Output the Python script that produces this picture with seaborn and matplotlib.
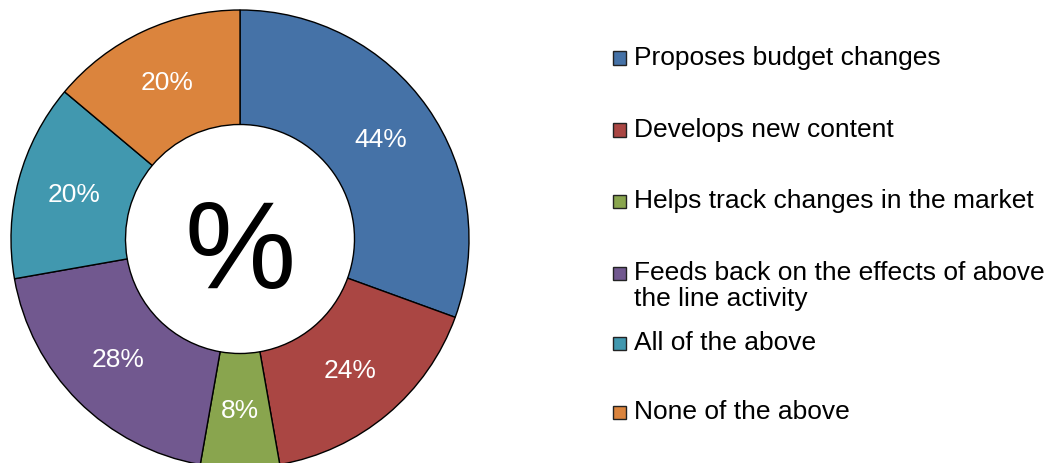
import matplotlib
matplotlib.use("Agg")
import matplotlib.pyplot as plt
from matplotlib.patches import Rectangle
import seaborn as sns

# Survey responses (percent of respondents, multiple answers allowed)
categories = [
    "Proposes budget changes",
    "Develops new content",
    "Helps track changes in the market",
    "Feeds back on the effects of above\nthe line activity",
    "All of the above",
    "None of the above",
]
values = [44, 24, 8, 28, 20, 20]
colors = ["#4572A7", "#AA4643", "#89A54E", "#71588F", "#4198AF", "#DB843D"]

sns.set_theme(style="white")
plt.rcParams["font.family"] = ["Liberation Sans", "DejaVu Sans"]

W, H = 1054, 463
DPI = 100
fig = plt.figure(figsize=(W / DPI, H / DPI), dpi=DPI)
fig.patch.set_facecolor("white")

# donut geometry in pixels
cx, cy, R = 240, 239, 229
lim = 1.01
half = R * lim
ax = fig.add_axes([(cx - half) / W, (H - cy - half) / H, 2 * half / W, 2 * half / H])

palette = sns.color_palette(colors)
wedges, texts = ax.pie(
    values,
    colors=palette,
    startangle=90,
    counterclock=False,
    radius=1.0,
    labels=[f"{v}%" for v in values],
    labeldistance=0.75,
    wedgeprops=dict(width=0.5, edgecolor="black", linewidth=1.0),
    textprops=dict(color="white", fontsize=19, ha="center", va="center"),
)
for w in wedges:
    w.set_clip_on(False)
ax.set_xlim(-lim, lim)
ax.set_ylim(-lim, lim)
ax.set_aspect("equal")
ax.axis("off")

ax.text(0, -0.075, "%", fontsize=90, color="black", ha="center", va="center")

# legend drawn as a column of swatches and labels
legend_rows = [58, 130, 201, 273, 343, 412]
sw = 13
for lab, col, y in zip(categories, colors, legend_rows):
    fig.add_artist(Rectangle(((613) / W, (H - y - sw / 2) / H), sw / W, sw / H,
                             transform=fig.transFigure, facecolor=col,
                             edgecolor="#222222", linewidth=1.0))
    fig.text(634 / W, (H - y) / H, lab.split("\n")[0], fontsize=19,
             color="black", ha="left", va="center")
    if "\n" in lab:
        fig.text(634 / W, (H - y - 26) / H, lab.split("\n")[1], fontsize=19,
                 color="black", ha="left", va="center")

fig.savefig("out.png", dpi=DPI, facecolor="white")
